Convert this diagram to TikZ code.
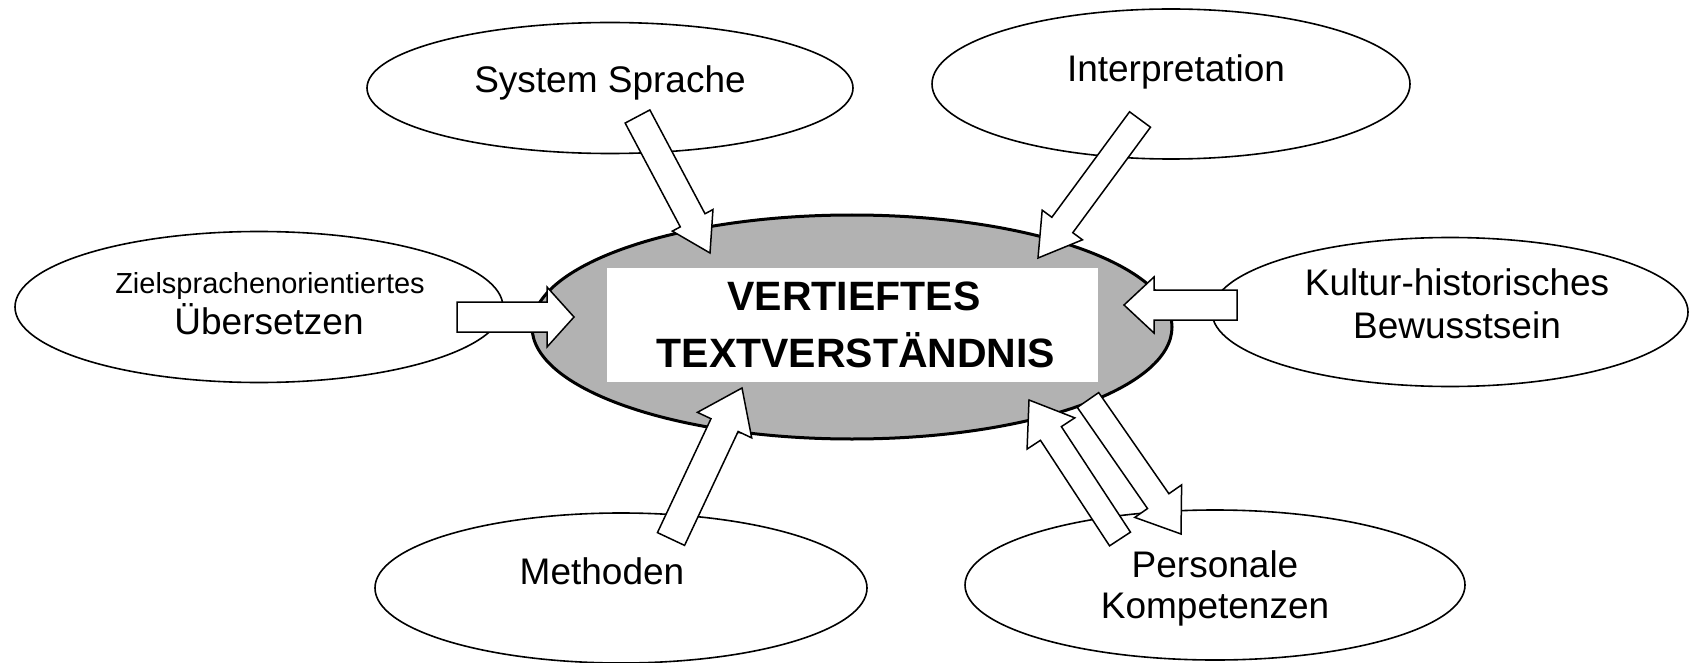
\documentclass[tikz,border=0pt]{standalone}
\usepackage{fontspec}
\setmainfont{Liberation Sans}
\usetikzlibrary{shapes.geometric,calc}
\tikzset{
  outer/.style={draw=black, line width=0.8pt, ellipse, fill=white, inner sep=0pt},
  core/.style={draw=black, line width=1.5pt, ellipse, fill=black!30, inner sep=0pt},
  plate/.style={fill=white, draw=none, inner sep=0pt},
  lbl/.style={inner sep=0pt, anchor=base, font=\fontsize{18.5}{22}\selectfont},
  smalllbl/.style={inner sep=0pt, anchor=base, font=\fontsize{14.5}{17}\selectfont},
  corelbl/.style={inner sep=0pt, anchor=base, font=\fontsize{20.5}{24}\selectfont\bfseries},
  blockarr/.style={draw=black, fill=white, line width=0.75pt, line join=miter}
}
% #1 tail, #2 tip, #3 half shaft width, #4 half head width, #5 head length
\newcommand{\blockarrow}[5]{%
  \coordinate (bab) at ($(#2)!#5!(#1)$);
  \draw[blockarr] ($(#1)!#3!90:(#2)$) -- ($(bab)!#3!90:(#2)$) -- ($(bab)!#4!90:(#2)$)
    -- (#2) -- ($(bab)!#4!-90:(#2)$) -- ($(bab)!#3!-90:(#2)$) -- ($(#1)!#3!-90:(#2)$) -- cycle;
}
\begin{document}
\begin{tikzpicture}[x=0.5pt,y=-0.5pt]
\useasboundingbox (0,0) rectangle (1690,663);
% outer ellipses (sizes in pt = diameters in px / 2)
\node[outer, minimum width=243pt, minimum height=65.5pt] (sys) at (610,88) {};
\node[outer, minimum width=239pt, minimum height=75pt] (interp) at (1171,84) {};
\node[outer, minimum width=244pt, minimum height=75.5pt] (ziel) at (259,307) {};
\node[outer, minimum width=238pt, minimum height=74.5pt] (kultur) at (1450,312) {};
\node[outer, minimum width=246pt, minimum height=75pt] (meth) at (621,588) {};
\node[outer, minimum width=250pt, minimum height=75pt] (pers) at (1215,585) {};
% centre
\node[core, minimum width=320pt, minimum height=112pt] (centre) at (852,327) {};
\node[plate, minimum width=245.5pt, minimum height=57pt] (plate) at (852.5,325) {};
% labels
\node[lbl] (tsys) at (610,93) {System Sprache};
\node[lbl] (tinterp) at (1176,82) {Interpretation};
\node[smalllbl] (tziel1) at (270,293) {Zielsprachenorientiertes};
\node[lbl] (tziel2) at (269,334) {Übersetzen};
\node[lbl] (tkult1) at (1457,295) {Kultur-historisches};
\node[lbl] (tkult2) at (1457,338) {Bewusstsein};
\node[lbl] (tmeth) at (602,584) {Methoden};
\node[lbl] (tpers1) at (1215,577) {Personale};
\node[lbl] (tpers2) at (1215,618) {Kompetenzen};
\node[corelbl] (tc1) at (854,310) {VERTIEFTES};
\node[corelbl] (tc2) at (856,367) {TEXTVERSTÄNDNIS};
% arrow end points
\coordinate (sysT) at (637.5,116.5);   \coordinate (sysP) at (710,253);
\coordinate (intT) at (1140,119.5);    \coordinate (intP) at (1038,258);
\coordinate (zielT) at (457,317);      \coordinate (zielP) at (574,317);
\coordinate (kultT) at (1237,305);     \coordinate (kultP) at (1124,305);
\coordinate (methT) at (671,539);      \coordinate (methP) at (742,388);
\coordinate (upT) at (1120,539);       \coordinate (upP) at (1029,400);
\coordinate (dnT) at (1088,400);       \coordinate (dnP) at (1181,534);
% arrows
\blockarrow{sysT}{sysP}{7pt}{11.5pt}{18.5pt}
\blockarrow{intT}{intP}{6.5pt}{12.5pt}{20.5pt}
\blockarrow{zielT}{zielP}{7.5pt}{15pt}{13.5pt}
\blockarrow{kultT}{kultP}{7.5pt}{14pt}{15pt}
\blockarrow{methT}{methP}{7.5pt}{15pt}{20.5pt}
\blockarrow{upT}{upP}{6.25pt}{14.25pt}{20pt}
\blockarrow{dnT}{dnP}{6.5pt}{14.25pt}{20pt}
\end{tikzpicture}
\end{document}
